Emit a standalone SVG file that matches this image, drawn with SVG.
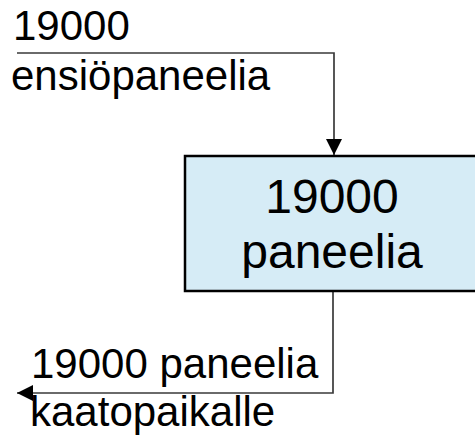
<svg xmlns="http://www.w3.org/2000/svg" width="475" height="436" viewBox="0 0 475 436">
  <style>
    text { font-family: "Liberation Sans", Arial, sans-serif; fill: #000; }
    .label { font-size: 42px; }
    .inner { font-size: 48px; }
    .flow { fill: none; stroke: #3a3a3a; stroke-width: 1.7; }
    .box { fill: #d6ecf6; stroke: #000; stroke-width: 2.5; }
  </style>
  <defs>
    <marker id="arrow" viewBox="0 0 10 10" refX="10" refY="5" markerWidth="17" markerHeight="16" markerUnits="userSpaceOnUse" orient="auto">
      <path d="M0,0 L10,5 L0,10 Z" fill="#000"/>
    </marker>
  </defs>

  <g id="connectors">
    <path class="flow" d="M17,53 H334 V155" marker-end="url(#arrow)"/>
    <path class="flow" d="M333,291 V393 H17" marker-end="url(#arrow)"/>
  </g>

  <g id="node-panels">
    <rect class="box" x="185" y="156" width="300" height="135"/>
    <text class="inner" x="332" y="213" text-anchor="middle">19000</text>
    <text class="inner" x="332" y="268" text-anchor="middle">paneelia</text>
  </g>

  <g id="label-in">
    <text class="label" x="13" y="40">19000</text>
    <text class="label" x="11" y="90">ensiöpaneelia</text>
  </g>

  <g id="label-out">
    <text class="label" x="31" y="378">19000 paneelia</text>
    <text class="label" x="30" y="426">kaatopaikalle</text>
  </g>
</svg>
